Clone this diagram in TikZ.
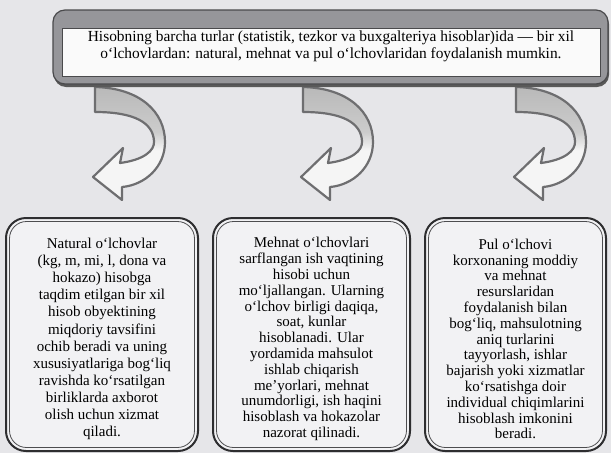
\documentclass[tikz,border=0pt]{standalone}
\usepackage{fontspec}
\setmainfont{Liberation Serif}
\definecolor{bgc}{HTML}{E6E6E9}
\definecolor{boxfill}{HTML}{F2F2F4}
\definecolor{topgray}{HTML}{96969A}
\definecolor{topline}{HTML}{4A4A4C}
\definecolor{arrline}{HTML}{6E6E70}
\definecolor{boxline}{HTML}{2E2E30}
\pgfdeclareverticalshading{arrshade}{100bp}{color(0bp)=(white!92!gray); color(25bp)=(white!92!gray); color(47bp)=(white!92!gray); color(55bp)=(gray!40); color(75bp)=(gray!55); color(100bp)=(gray!55)}
\tikzset{
  arrowline/.style={draw=arrline, line width=2.2pt, line join=round, shade, shading=arrshade},
  curl/.pic={
    \path[arrowline] (0,0) .. controls (45,1) and (70,25) .. (70,55)
      .. controls (70,80) and (50,98) .. (27,100) -- (27,113) -- (-2,90) -- (28,61) -- (25,76)
      .. controls (48,73) and (60,64) .. (59,54) .. controls (58,36) and (40,25) .. (0,25) -- cycle;
  },
  outerbox/.style={draw=boxline, line width=2pt, fill=boxfill, rounded corners=20pt},
  innerbox/.style={draw=boxline!85, line width=0.8pt, rounded corners=17pt},
  boxtext/.style={align=center, font=\fontsize{15}{15.8}\selectfont, inner sep=0pt},
}
\begin{document}
\begin{tikzpicture}[x=1pt,y=-1pt]
\path[fill=bgc] (0,0) rectangle (611,453);
\useasboundingbox (0,0) rectangle (611,453);

% curved arrows
\pic at (95,87) {curl};
\pic at (303,87) {curl};
\pic at (516,87) {curl};

% top box
\fill[black!65, rounded corners=12pt] (54,12) rectangle (609,87);
\node[draw=topline, line width=1.2pt, fill=topgray, rounded corners=12pt, minimum width=555pt, minimum height=74pt, inner sep=0pt] (top) at (330.5,47) {};
\node[draw=topline, line width=0.8pt, fill=white!96!gray, minimum width=538pt, minimum height=48pt, inner sep=0pt] (topin) at (331,52.5) {};
\node[align=center, font=\fontsize{15.4}{17}\selectfont, inner sep=0pt] (toptext) at (331,46.5)
  {Hisobning barcha turlar (statistik, tezkor va buxgalteriya hisoblar)ida — bir xil\\
   o‘lchovlardan: natural, mehnat va pul o‘lchovlaridan foydalanish mumkin.};

% bottom boxes
\path[outerbox] (6,218) rectangle (198,451);
\path[innerbox] (9.5,221.5) rectangle (194.5,447.5);
\path[outerbox] (213,218) rectangle (410,451);
\path[innerbox] (216.5,221.5) rectangle (406.5,447.5);
\path[outerbox] (425,218) rectangle (606,451);
\path[innerbox] (428.5,221.5) rectangle (602.5,447.5);

\node[boxtext, font=\fontsize{15}{17.1}\selectfont] (natural) at (102,339)
  {Natural o‘lchovlar\\(kg, m, mi, l, dona va\\hokazo) hisobga\\taqdim etilgan bir xil\\hisob obyektining\\miqdoriy tavsifini\\ochib beradi va uning\\xususiyatlariga bog‘liq\\ravishda ko‘rsatilgan\\birliklarda axborot\\olish uchun xizmat\\qiladi.};
\node[boxtext] (mehnat) at (311.5,339)
  {Mehnat o‘lchovlari\\sarflangan ish vaqtining\\hisobi uchun\\mo‘ljallangan. Ularning\\o‘lchov birligi daqiqa,\\soat, kunlar\\hisoblanadi. Ular\\yordamida mahsulot\\ishlab chiqarish\\me’yorlari, mehnat\\unumdorligi, ish haqini\\hisoblash va hokazolar\\nazorat qilinadi.};
\node[boxtext] (pul) at (515.5,339)
  {Pul o‘lchovi\\korxonaning moddiy\\va mehnat\\resurslaridan\\foydalanish bilan\\bog‘liq, mahsulotning\\aniq turlarini\\tayyorlash, ishlar\\bajarish yoki xizmatlar\\ko‘rsatishga doir\\individual chiqimlarini\\hisoblash imkonini\\beradi.};
\end{tikzpicture}
\end{document}
